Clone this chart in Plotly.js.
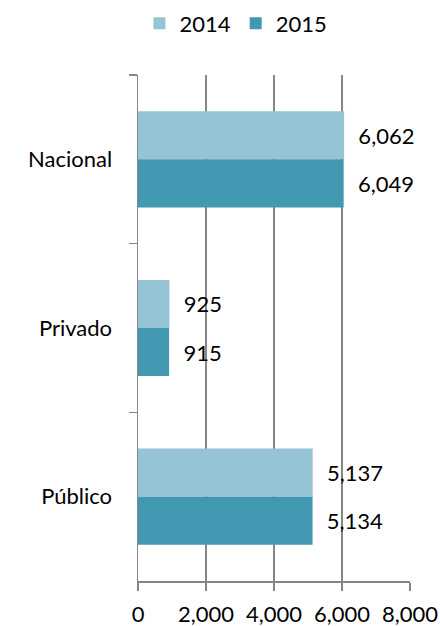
<!DOCTYPE html>
<html><head><meta charset="utf-8">
<script src="https://cdn.plot.ly/plotly-3.0.1.min.js"></script>
<style>html,body{margin:0;padding:0;background:#fff}#chart{width:440px;height:626px}</style>
</head><body><div id="chart"></div>
<script>
var categories = ['Nacional', 'Privado', 'Público'];
var values2014 = [6062, 925, 5137];
var values2015 = [6049, 915, 5134];
var seriesNames = ['2014', '2015'];
var xTicks = [0, 2000, 4000, 6000, 8000];

var font = {family: 'Lato, "Open Sans", sans-serif', size: 22, color: '#000'};
var traces = [
  {type: 'bar', orientation: 'h', name: seriesNames[0], y: categories, x: values2014,
   marker: {color: '#94C4D5'}, text: values2014, texttemplate: '  %{x:,}',
   textposition: 'outside', cliponaxis: false, textfont: font},
  {type: 'bar', orientation: 'h', name: seriesNames[1], y: categories, x: values2015,
   marker: {color: '#4298B0'}, text: values2015, texttemplate: '  %{x:,}',
   textposition: 'outside', cliponaxis: false, textfont: font}
];
var layout = {
  width: 440, height: 626,
  margin: {l: 138, r: 30, t: 75, b: 45},
  barmode: 'group', bargap: 0.43, bargroupgap: 0,
  font: font,
  paper_bgcolor: '#fff', plot_bgcolor: '#fff',
  showlegend: true,
  legend: {orientation: 'h', x: 0.36, xanchor: 'center', y: 0.996, yref: 'container', yanchor: 'top',
           font: font, itemwidth: 30, traceorder: 'normal'},
  xaxis: {range: [0, 8000], tickvals: xTicks, tickformat: ',', showgrid: true, gridcolor: '#868686', gridwidth: 1.5,
          showline: true, linecolor: '#868686', linewidth: 1.5, ticks: 'outside', ticklen: 8, tickcolor: '#868686',
          tickwidth: 1.5, zeroline: false, tickfont: font, ticklabelstandoff: 5, fixedrange: true},
  yaxis: {type: 'category', autorange: 'reversed', showline: true, linecolor: '#868686', linewidth: 1.5,
          ticks: 'outside', tickson: 'boundaries', ticklen: 8, tickcolor: '#868686', tickwidth: 1.5,
          showgrid: false, tickfont: font, ticklabelstandoff: 20, fixedrange: true}
};
Plotly.newPlot('chart', traces, layout, {displayModeBar: false, staticPlot: true});
</script></body></html>
